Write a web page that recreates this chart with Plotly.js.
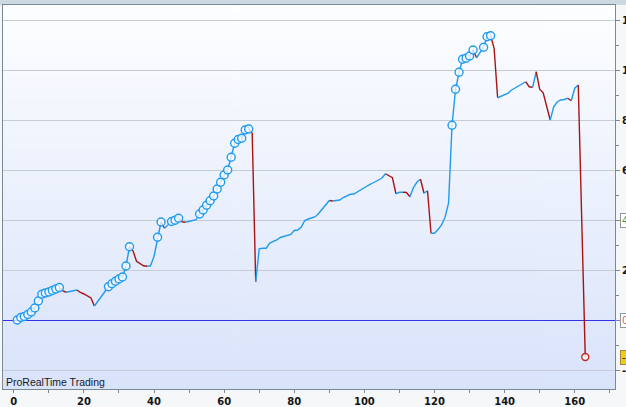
<!DOCTYPE html>
<html>
<head>
<meta charset="utf-8">
<script src="https://cdn.plot.ly/plotly-3.0.1.min.js"></script>
<style>
  html, body { margin: 0; padding: 0; background: #f5f7f9; }
  #chart { width: 626px; height: 407px; }
</style>
</head>
<body>
<div id="chart"></div>
<script>
// Equity curve, trade number 1..163
const equity = [
  0.00, 0.10, 0.14, 0.22, 0.32, 0.48, 0.76, 1.03, 1.08, 1.12,
  1.18, 1.24, 1.30, 1.16, 1.11, 1.14, 1.17, 1.20, 1.10, 1.04,
  0.97, 0.88, 0.56, 0.76, 0.96, 1.15, 1.33, 1.45, 1.55, 1.64,
  1.72, 2.16, 2.93, 2.77, 2.35, 2.25, 2.17, 2.15, 2.17, 2.55,
  3.31, 3.92, 3.67, 3.80, 3.94, 3.99, 4.07, 3.93, 3.91, 3.94,
  3.97, 4.01, 4.24, 4.40, 4.59, 4.77, 4.96, 5.24, 5.51, 5.80,
  6.00, 6.51, 7.07, 7.22, 7.27, 7.60, 7.64, 7.47, 1.53, 2.85,
  2.87, 2.87, 3.08, 3.14, 3.20, 3.30, 3.34, 3.36, 3.42, 3.58,
  3.60, 3.72, 3.98, 4.04, 4.10, 4.13, 4.27, 4.45, 4.60, 4.78,
  4.76, 4.79, 4.80, 4.90, 4.98, 5.03, 5.04, 5.13, 5.23, 5.31,
  5.38, 5.45, 5.54, 5.60, 5.68, 5.85, 5.77, 5.69, 5.05, 5.11,
  5.11, 5.10, 4.93, 5.30, 5.52, 5.63, 5.07, 5.17, 3.47, 3.47,
  3.62, 3.80, 4.11, 4.67, 7.79, 9.23, 9.91, 10.43, 10.47, 10.56,
  10.80, 10.49, 10.70, 10.91, 11.33, 11.37, 10.87, 8.89, 8.95, 9.00,
  9.07, 9.20, 9.28, 9.36, 9.45, 9.53, 9.33, 9.31, 9.93, 9.23,
  9.09, 8.55, 8.00, 8.53, 8.72, 8.80, 8.82, 8.87, 8.77, 9.27,
  9.40, 3.96, -1.48
];
const trades = equity.map((v, i) => i + 1);
const xTickVals = [0, 20, 40, 60, 80, 100, 120, 140, 160];
// y labels at 4 and 0 are covered by the level boxes, as in the original
const yTickVals = [-2, 0, 2, 4, 6, 8, 10, 12];
const yTickText = ["-2", "", "2", "", "6", "8", "10", "12"];
const watermark = "ProRealTime Trading";
const levelGreen = "4.00";
const levelPink = "0.00";
const lastLabel = "-1.48";

const BLUE = "#1f9af0";
const RED = "#a81414";

// build colour runs: rising segments blue, falling red
const traces = [];
let runX = [trades[0]], runY = [equity[0]], runColor = null;
for (let i = 1; i < equity.length; i++) {
  const c = equity[i] >= equity[i - 1] ? BLUE : RED;
  if (runColor !== null && c !== runColor) {
    traces.push({x: runX, y: runY, color: runColor});
    runX = [trades[i - 1]]; runY = [equity[i - 1]];
  }
  runColor = c;
  runX.push(trades[i]); runY.push(equity[i]);
}
traces.push({x: runX, y: runY, color: runColor});

const data = traces.map(t => ({
  type: "scatter", mode: "lines", x: t.x, y: t.y,
  line: {color: t.color, width: 1.4}, hoverinfo: "skip", showlegend: false
}));

// circles on new equity highs
const hx = [], hy = [];
let peak = -Infinity;
for (let i = 0; i < equity.length; i++) {
  if (equity[i] > peak) { hx.push(trades[i]); hy.push(equity[i]); peak = equity[i]; }
}
data.push({
  type: "scatter", mode: "markers", x: hx, y: hy, hoverinfo: "skip", showlegend: false,
  marker: {symbol: "circle", size: 8, color: "rgba(255,255,255,0.75)", line: {color: BLUE, width: 1.4}}
});
const n = equity.length - 1;
data.push({
  type: "scatter", mode: "markers", x: [trades[n]], y: [equity[n]], hoverinfo: "skip", showlegend: false,
  marker: {symbol: "circle", size: 7, color: "rgba(255,255,255,0.8)", line: {color: "#c02828", width: 1.4}}
});

// vertical gradient for plot background
const cv = document.createElement("canvas");
cv.width = 4; cv.height = 256;
const ctx = cv.getContext("2d");
const g = ctx.createLinearGradient(0, 0, 0, 256);
g.addColorStop(0, "#fdfeff");
g.addColorStop(1, "#d9e3fa");
ctx.fillStyle = g; ctx.fillRect(0, 0, 4, 256);
const bgURL = cv.toDataURL("image/png");

const FRAME = "#7b8995";
const tickFont = {family: "DejaVu Sans, Verdana, sans-serif", size: 10, color: "#141414", weight: "bold"};

const layout = {
  width: 626, height: 407,
  margin: {l: 3, r: 11, t: 5, b: 18, pad: 0},
  paper_bgcolor: "#f5f7f9",
  plot_bgcolor: "#eef2fb",
  showlegend: false,
  xaxis: {
    range: [-3.08, 171.48], autorange: false,
    tickvals: xTickVals, ticktext: xTickVals.map(String),
    ticks: "outside", ticklen: 3, tickcolor: FRAME, tickwidth: 1,
    minor: {dtick: 10, tick0: 0, ticks: "outside", ticklen: 3, tickcolor: FRAME, showgrid: false},
    showgrid: false, zeroline: false,
    showline: true, linecolor: FRAME, linewidth: 1, mirror: true,
    tickfont: tickFont, automargin: false
  },
  yaxis: {
    side: "right",
    range: [-2.76, 12.6], autorange: false,
    tickvals: yTickVals, ticktext: yTickText,
    ticks: "outside", ticklen: 4, tickcolor: FRAME, tickwidth: 1,
    minor: {dtick: 1, tick0: 0, ticks: "outside", ticklen: 3, tickcolor: FRAME, showgrid: false},
    showgrid: true, gridcolor: "#c6ccd4", gridwidth: 1,
    zeroline: true, zerolinecolor: "#3434e6", zerolinewidth: 1,
    showline: true, linecolor: FRAME, linewidth: 1, mirror: true,
    tickfont: tickFont, automargin: false
  },
  images: [{
    source: bgURL, xref: "paper", yref: "paper", x: 0, y: 1,
    sizex: 1, sizey: 1, sizing: "stretch", layer: "below", xanchor: "left", yanchor: "top"
  }],
  shapes: [
    {type: "rect", xref: "paper", yref: "paper", x0: -0.01, x1: 1.02, y0: 1.0, y1: 1.03,
     fillcolor: "#ccd9e0", line: {width: 0}, layer: "below"}
  ],
  annotations: [
    {text: watermark, xref: "paper", yref: "paper", x: 0, y: 0, xanchor: "left", yanchor: "bottom",
     xshift: 1, yshift: -1, showarrow: false,
     font: {family: "Liberation Sans, Arial, sans-serif", size: 10.5, color: "#1a1a1a"}},
    {text: levelGreen, xref: "paper", yref: "y", x: 1, y: 4, xanchor: "left", yanchor: "middle",
     xshift: 5, showarrow: false, bgcolor: "#ffffff", bordercolor: "#8a98a3", borderwidth: 1, borderpad: 1,
     font: {family: "DejaVu Sans, sans-serif", size: 10, color: "#3c9a2e"}},
    {text: levelPink, xref: "paper", yref: "y", x: 1, y: 0, xanchor: "left", yanchor: "middle",
     xshift: 5, showarrow: false, bgcolor: "#ffffff", bordercolor: "#8a98a3", borderwidth: 1, borderpad: 1,
     font: {family: "DejaVu Sans, sans-serif", size: 10, color: "#e0607e"}},
    {text: lastLabel, xref: "paper", yref: "y", x: 1, y: equity[n], xanchor: "left", yanchor: "middle",
     xshift: 5, showarrow: false, bgcolor: "#f2cc10", bordercolor: "#9a8a40", borderwidth: 1, borderpad: 1,
     font: {family: "DejaVu Sans, sans-serif", size: 10, color: "#111111"}}
  ]
};

Plotly.newPlot("chart", data, layout, {staticPlot: true, displayModeBar: false});
</script>
</body>
</html>
